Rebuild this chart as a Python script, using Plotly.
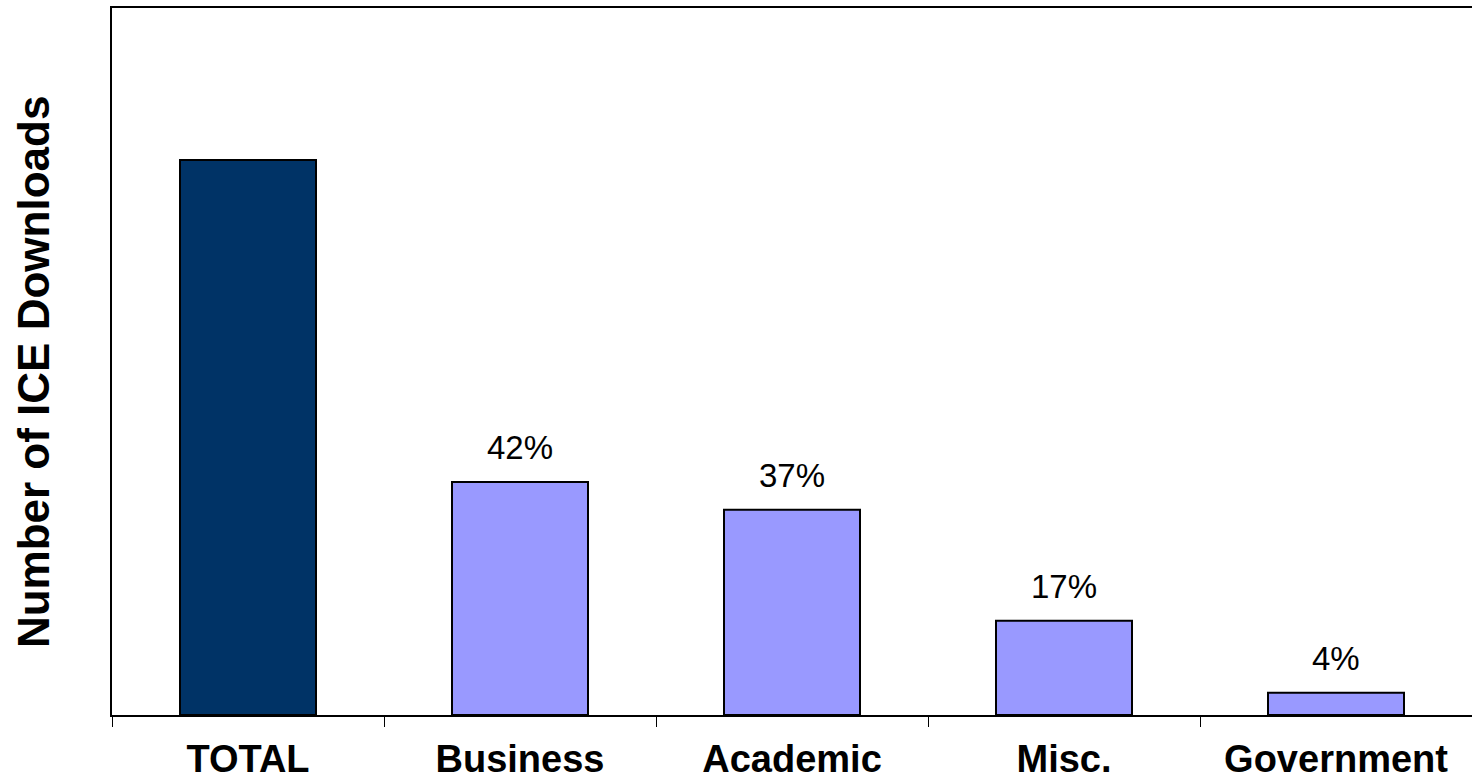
import plotly.graph_objects as go

categories = ["TOTAL", "Business", "Academic", "Misc.", "Government"]
values = [100, 42, 37, 17, 4]
labels = ["", "42%", "37%", "17%", "4%"]
colors = ["#003366", "#9999FF", "#9999FF", "#9999FF", "#9999FF"]

fig = go.Figure()
fig.add_trace(go.Bar(
    x=categories, y=values,
    marker=dict(color=colors, line=dict(color="black", width=2)),
    width=0.5,
))

for c, v, t in zip(categories, values, labels):
    if t:
        fig.add_annotation(x=c, y=v, text=t, showarrow=False, yanchor="bottom", yshift=14,
                           font=dict(family="Liberation Sans, Arial", size=33, color="black"))

fig.add_annotation(xref="paper", yref="paper", x=(33 - 112) / 1360, y=0.485,
                   text="Number of ICE Downloads", textangle=-90, showarrow=False,
                   xanchor="center", yanchor="middle",
                   font=dict(family="Liberation Sans, Arial", size=44, color="black", weight="bold"))

fig.update_layout(
    width=1472, height=781,
    margin=dict(l=112, r=0, t=8, b=66),
    paper_bgcolor="white", plot_bgcolor="white",
    showlegend=False,
    bargap=0.5,
    xaxis=dict(showline=True, linecolor="black", linewidth=2, mirror=True, automargin=False,
               ticks="outside", tickson="boundaries", ticklen=10, tickcolor="black", tickwidth=1,
               ticklabelstandoff=9,
               tickfont=dict(family="Liberation Sans, Arial", size=38, color="black", weight="bold"),
               showgrid=False, zeroline=False),
    yaxis=dict(range=[0, 127.4], showline=True, linecolor="black", linewidth=2, mirror=True,
               automargin=False,
               showticklabels=False, ticks="", showgrid=False, zeroline=False),
)

fig.write_html("out.html")
